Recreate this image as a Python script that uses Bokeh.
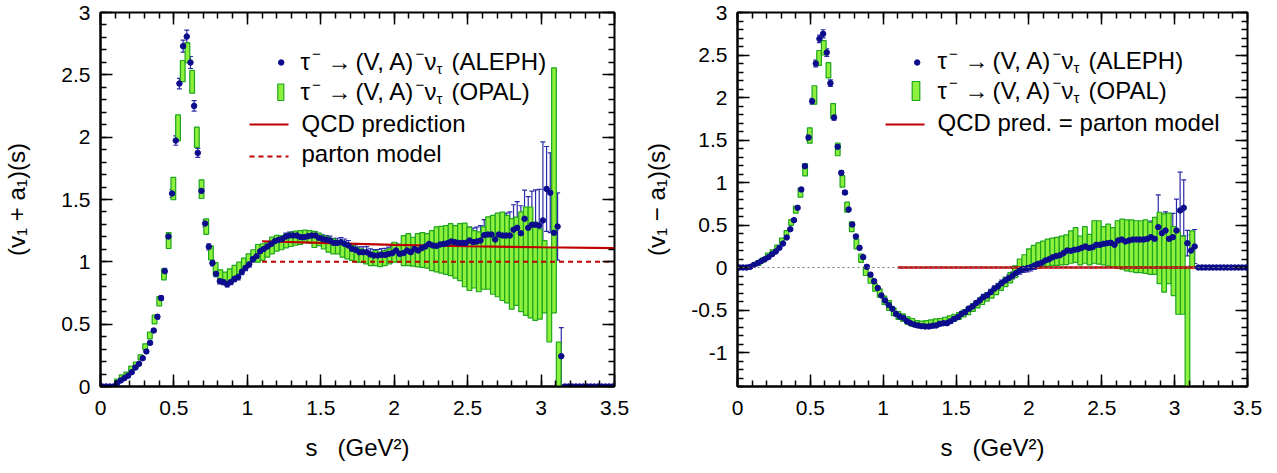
import numpy as np
from bokeh.plotting import figure
from bokeh.models import (ColumnDataSource, Whisker, TeeHead, Label, Range1d, LinearAxis,
                          FixedTicker, Span, CustomJSTickFormatter)
from bokeh.layouts import row
from bokeh.embed import file_html
from bokeh.resources import INLINE

FONT = "Liberation Sans"

# ---------------- data ----------------
ALEPH_BIN = 0.025      # ALEPH bin width (GeV^2), first bin centre 0.0125
OPAL_BIN = 0.032       # OPAL bin width (GeV^2), first bin centre 0.016

aleph_sum = [0, 0, 0, 0,
             0.027, 0.048, 0.067, 0.086, 0.115, 0.152, 0.182, 0.227, 0.281, 0.350,
             0.449, 0.559, 0.709, 0.925, 1.203, 1.548, 1.973, 2.430, 2.730, 2.807,
             2.599, 2.251, 1.874, 1.569, 1.307, 1.120, 0.990, 0.904, 0.845, 0.838,
             0.820, 0.838, 0.864, 0.878, 0.920, 0.952, 0.980, 1.022, 1.045, 1.085,
             1.104, 1.123, 1.144, 1.166, 1.177, 1.184, 1.203, 1.211, 1.211, 1.211,
             1.198, 1.198, 1.205, 1.211, 1.211, 1.193, 1.184, 1.177, 1.171, 1.152,
             1.152, 1.157, 1.144, 1.131, 1.104, 1.096, 1.077, 1.077, 1.077, 1.059,
             1.051, 1.051, 1.056, 1.056, 1.064, 1.070, 1.091, 1.064,
             1.070, 1.091, 1.077, 1.104, 1.091, 1.110, 1.123, 1.144, 1.131, 1.128,
             1.139, 1.144, 1.150, 1.163, 1.158, 1.152, 1.152, 1.152, 1.171, 1.158,
             1.163, 1.171, 1.214, 1.219, 1.219, 1.179, 1.219, 1.211, 1.211, 1.211,
             1.258, 1.273, 1.230, 1.345, 1.273, 1.297, 1.297, 1.291, 1.332, 1.585,
             1.554, 1.233, 1.283, 0.243,
             0, 0, 0, 0, 0, 0, 0, 0, 0, 0, 0, 0, 0, 0]
aleph_sum_err = [0, 0, 0, 0,
                 0.006, 0.006, 0.007, 0.007, 0.008, 0.008, 0.009, 0.010, 0.011, 0.012,
                 0.014, 0.016, 0.018, 0.022, 0.028, 0.032, 0.038, 0.042, 0.048, 0.052,
                 0.048, 0.042, 0.036, 0.032, 0.028, 0.025, 0.022, 0.022, 0.022, 0.022,
                 0.022, 0.022, 0.022, 0.022, 0.022, 0.022, 0.022, 0.024, 0.024, 0.024,
                 0.025, 0.025, 0.026, 0.026, 0.027, 0.027, 0.028, 0.028, 0.029, 0.029,
                 0.030, 0.030, 0.031, 0.031, 0.032, 0.032, 0.033, 0.034, 0.035, 0.036,
                 0.037, 0.038, 0.039, 0.040, 0.041, 0.042, 0.043, 0.044, 0.045, 0.046,
                 0.047, 0.048, 0.050, 0.052, 0.054, 0.056, 0.058, 0.060,
                 0.062, 0.064, 0.066, 0.068, 0.070, 0.072, 0.074, 0.076, 0.078, 0.080,
                 0.082, 0.085, 0.088, 0.090, 0.093, 0.096, 0.100, 0.104, 0.108, 0.112,
                 0.116, 0.120, 0.125, 0.130, 0.140, 0.150, 0.160, 0.170, 0.180, 0.190,
                 0.200, 0.210, 0.220, 0.230, 0.250, 0.270, 0.280, 0.290, 0.630, 0.340,
                 0.320, 0.280, 0.270, 0.230,
                 0, 0, 0, 0, 0, 0, 0, 0, 0, 0, 0, 0, 0, 0]

aleph_diff = [0, 0, 0, 0.008, 0.031, 0.051, 0.075, 0.098, 0.122, 0.157,
              0.188, 0.231, 0.282, 0.353, 0.451, 0.557, 0.702, 0.918, 1.192, 1.529,
              1.957, 2.400, 2.690, 2.749, 2.529, 2.169, 1.765, 1.420, 1.114, 0.882,
              0.682, 0.506, 0.365, 0.231, 0.122, 0.008, -0.084, -0.161, -0.241, -0.329,
              -0.388, -0.441, -0.486, -0.545, -0.576, -0.592, -0.631, -0.655, -0.671, -0.682,
              -0.690, -0.694, -0.694, -0.686, -0.682, -0.663, -0.655, -0.655, -0.631, -0.604,
              -0.584, -0.545, -0.525, -0.486, -0.459, -0.420, -0.388, -0.349, -0.329, -0.290,
              -0.251, -0.224, -0.184, -0.153, -0.125, -0.094, -0.063, -0.035, -0.016, -0.008,
              0.004, 0.024, 0.043, 0.055, 0.082, 0.096, 0.120, 0.135, 0.145, 0.170,
              0.200, 0.196, 0.208, 0.214, 0.231, 0.247, 0.231, 0.239, 0.267, 0.267,
              0.278, 0.286, 0.290, 0.267, 0.318, 0.329, 0.306, 0.318, 0.329, 0.329,
              0.329, 0.329, 0.337, 0.357, 0.337, 0.475, 0.404, 0.435, 0.337, 0.357,
              0.435, 0.671, 0.702, 0.286, 0.200, 0.247,
              0, 0, 0, 0, 0, 0, 0, 0, 0, 0, 0, 0, 0, 0]
aleph_diff_err = [0, 0, 0, 0.005, 0.005, 0.006, 0.006, 0.007, 0.007, 0.008,
                  0.009, 0.010, 0.011, 0.012, 0.014, 0.016, 0.018, 0.022, 0.026, 0.030,
                  0.034, 0.040, 0.045, 0.048, 0.044, 0.038, 0.032, 0.028, 0.024, 0.022,
                  0.020, 0.020, 0.020, 0.020, 0.020, 0.020, 0.020, 0.020, 0.020, 0.020,
                  0.020, 0.020, 0.020, 0.020, 0.020, 0.020, 0.020, 0.020, 0.020, 0.020,
                  0.021, 0.021, 0.022, 0.022, 0.023, 0.023, 0.024, 0.024, 0.025, 0.025,
                  0.026, 0.026, 0.027, 0.028, 0.029, 0.030, 0.031, 0.032, 0.033, 0.034,
                  0.035, 0.036, 0.037, 0.038, 0.039, 0.040, 0.041, 0.042, 0.043, 0.044,
                  0.045, 0.046, 0.047, 0.048, 0.050, 0.052, 0.054, 0.056, 0.058, 0.060,
                  0.062, 0.064, 0.066, 0.068, 0.070, 0.072, 0.074, 0.076, 0.078, 0.080,
                  0.083, 0.086, 0.089, 0.092, 0.095, 0.098, 0.100, 0.105, 0.110, 0.115,
                  0.120, 0.130, 0.140, 0.190, 0.150, 0.380, 0.200, 0.220, 0.250, 0.280,
                  0.370, 0.450, 0.330, 0.150, 0.180, 0.200,
                  0, 0, 0, 0, 0, 0, 0, 0, 0, 0, 0, 0, 0, 0]

opal_sum_first_bin = 3
opal_sum = [0.045, 0.075, 0.098, 0.143, 0.171, 0.234, 0.318, 0.409, 0.537, 0.684,
            0.900, 1.171, 1.588, 2.076, 2.530, 2.677, 2.444, 1.999, 1.583, 1.283,
            1.072, 0.941, 0.893, 0.870, 0.894, 0.924, 0.950, 0.987, 1.021, 1.054,
            1.068, 1.078, 1.098, 1.131, 1.149, 1.154, 1.167, 1.180, 1.190, 1.195,
            1.204, 1.200, 1.180, 1.180, 1.157, 1.138, 1.124, 1.118, 1.097, 1.084,
            1.071, 1.057, 1.050, 1.037, 1.024, 1.030, 1.020, 1.030, 1.044, 1.077,
            1.070, 1.090, 1.098, 1.081, 1.093, 1.095, 1.088, 1.090, 1.100, 1.097,
            1.095, 1.098, 1.080, 1.078, 1.055, 1.024, 1.020, 1.000, 1.030, 1.070,
            1.056, 1.055, 1.044, 1.021, 0.983, 1.004, 1.000, 1.005, 0.995, 0.924,
            0.902, 0.880, 0.737, 1.573, 0.178]
opal_sum_err = [0.015, 0.018, 0.018, 0.020, 0.024, 0.020, 0.024, 0.027, 0.035, 0.037,
                0.044, 0.064, 0.090, 0.103, 0.085, 0.080, 0.091, 0.081, 0.075, 0.062,
                0.056, 0.053, 0.043, 0.047, 0.050, 0.047, 0.047, 0.043, 0.043, 0.043,
                0.071, 0.067, 0.060, 0.067, 0.063, 0.057, 0.055, 0.057, 0.057, 0.055,
                0.050, 0.050, 0.065, 0.050, 0.054, 0.060, 0.060, 0.054, 0.060, 0.060,
                0.060, 0.060, 0.054, 0.054, 0.054, 0.060, 0.058, 0.060, 0.060, 0.080,
                0.073, 0.120, 0.128, 0.116, 0.133, 0.140, 0.138, 0.160, 0.180, 0.187,
                0.195, 0.208, 0.210, 0.228, 0.255, 0.254, 0.230, 0.240, 0.250, 0.290,
                0.316, 0.335, 0.354, 0.351, 0.363, 0.354, 0.400, 0.435, 0.445, 0.394,
                0.362, 0.290, 0.380, 0.983, 0.178]

opal_diff_first_bin = 4
opal_diff = [0.053, 0.088, 0.140, 0.180, 0.235, 0.315, 0.405, 0.530, 0.680, 0.880,
             1.149, 1.553, 2.030, 2.466, 2.585, 2.320, 1.840, 1.390, 1.014, 0.710,
             0.480, 0.275, 0.110, -0.045, -0.145, -0.235, -0.300, -0.386, -0.447, -0.520,
             -0.565, -0.590, -0.625, -0.645, -0.665, -0.670, -0.665, -0.655, -0.645, -0.640,
             -0.625, -0.610, -0.590, -0.570, -0.540, -0.510, -0.470, -0.430, -0.390, -0.350,
             -0.310, -0.270, -0.220, -0.170, -0.120, -0.050, 0.030, 0.070, 0.110, 0.135,
             0.150, 0.160, 0.175, 0.185, 0.190, 0.200, 0.210, 0.240, 0.265, 0.200,
             0.265, 0.210, 0.300, 0.295, 0.255, 0.265, 0.235, 0.270, 0.275, 0.260,
             0.255, 0.245, 0.245, 0.245, 0.225, 0.255, 0.230, 0.170, 0.225, 0.075,
             -0.065, -0.090, -1.000, 0.215]
opal_diff_err = [0.029, 0.026, 0.028, 0.028, 0.028, 0.030, 0.030, 0.034, 0.041, 0.053,
                 0.071, 0.090, 0.108, 0.087, 0.085, 0.090, 0.088, 0.075, 0.068, 0.059,
                 0.057, 0.055, 0.049, 0.049, 0.040, 0.043, 0.049, 0.049, 0.059, 0.045,
                 0.045, 0.045, 0.045, 0.045, 0.040, 0.040, 0.040, 0.040, 0.040, 0.040,
                 0.040, 0.040, 0.040, 0.040, 0.040, 0.045, 0.045, 0.045, 0.045, 0.045,
                 0.050, 0.050, 0.050, 0.055, 0.060, 0.070, 0.070, 0.080, 0.110, 0.125,
                 0.140, 0.150, 0.160, 0.160, 0.165, 0.170, 0.175, 0.190, 0.205, 0.170,
                 0.215, 0.180, 0.250, 0.255, 0.225, 0.245, 0.235, 0.280, 0.295, 0.300,
                 0.305, 0.305, 0.305, 0.315, 0.305, 0.335, 0.420, 0.460, 0.415, 0.405,
                 0.485, 0.460, 1.000, 0.215]

qcd_s = [1.1, 1.5, 2.0, 2.5, 3.0, 3.5]
qcd_sum = [1.165, 1.152, 1.136, 1.125, 1.117, 1.110]
parton_s = [1.1, 3.5]
parton_sum = [1.0, 1.0]
qcd_diff = [0.0, 0.0]

x_ticks = [0, 0.5, 1, 1.5, 2, 2.5, 3, 3.5]
y_ticks_sum = [0, 0.5, 1, 1.5, 2, 2.5, 3]
y_ticks_diff = [-1, -0.5, 0, 0.5, 1, 1.5, 2, 2.5, 3]

# ---------------- style ----------------
ALEPH_COL = "#0c0c8c"
ERR_COL = "#2a2aa8"
OPAL_FILL = "#8cf03c"
OPAL_LINE = "#1da51d"
RED = "#c00000"
FH = 374
HEIGHT = 472


def aleph_source(vals, errs):
    k = np.arange(len(vals))
    s = 0.0125 + ALEPH_BIN * k
    return s, np.array(vals, dtype=float), np.array(errs, dtype=float)


def opal_source(first, vals, errs):
    m = np.arange(first, first + len(vals))
    s = 0.016 + OPAL_BIN * m
    v = np.array(vals, dtype=float)
    e = np.array(errs, dtype=float)
    return ColumnDataSource(dict(s=s, top=v + e, bottom=v - e))


def style_axis(ax, labels=True):
    ax.axis_line_width = 2
    ax.major_tick_in = 12
    ax.major_tick_out = 0
    ax.minor_tick_in = 6
    ax.minor_tick_out = 0
    ax.major_tick_line_width = 1.5
    ax.minor_tick_line_width = 1.5
    ax.major_label_text_font = FONT
    ax.major_label_text_font_size = "21px"
    ax.major_label_text_color = "black"
    ax.axis_label_text_font = FONT
    ax.axis_label_text_font_size = "24px"
    ax.axis_label_text_font_style = "normal"
    ax.axis_label_text_color = "black"
    if labels:
        ax.formatter = CustomJSTickFormatter(code="return tick.toString()")
    else:
        ax.formatter = CustomJSTickFormatter(code="return ''")
        ax.major_label_standoff = 0
        ax.axis_line_color = None


def make_panel(width, bl, br, ylo, yhi, yticks, ylabel, ylabel_standoff):
    p = figure(width=width, height=HEIGHT, x_range=Range1d(0, 3.5), y_range=Range1d(ylo, yhi),
               output_backend="svg", toolbar_location=None,
               min_border_left=bl, min_border_right=br, min_border_top=12,
               min_border_bottom=HEIGHT - 12 - FH,
               x_axis_label="s\u00a0\u00a0\u00a0(GeV\u00b2)", y_axis_label=ylabel)
    p.grid.visible = False
    p.outline_line_color = "black"
    p.outline_line_width = 2
    p.background_fill_color = "white"
    p.border_fill_color = "white"
    xminor = [round(0.1 * i, 2) for i in range(36)]
    n = int(round((yhi - ylo) / 0.1))
    yminor = [round(ylo + 0.1 * i, 2) for i in range(n + 1)]
    p.xaxis.ticker = FixedTicker(ticks=x_ticks, minor_ticks=xminor)
    p.yaxis.ticker = FixedTicker(ticks=yticks, minor_ticks=yminor)
    for ax in p.xaxis:
        style_axis(ax)
        ax.major_label_standoff = 14
        ax.axis_label_standoff = 16
    for ax in p.yaxis:
        style_axis(ax)
        ax.major_label_standoff = 10
        ax.axis_label_standoff = ylabel_standoff
    top = LinearAxis(ticker=FixedTicker(ticks=x_ticks, minor_ticks=xminor))
    style_axis(top, labels=False)
    p.add_layout(top, "above")
    right = LinearAxis(ticker=FixedTicker(ticks=yticks, minor_ticks=yminor))
    style_axis(right, labels=False)
    p.add_layout(right, "right")
    return p


def draw_opal(p, first, vals, errs):
    osrc = opal_source(first, vals, errs)
    p.vbar(x="s", width=OPAL_BIN, top="top", bottom="bottom", source=osrc,
           fill_color=OPAL_FILL, line_color=OPAL_LINE, line_width=1.2)


def draw_aleph(p, aleph_vals, aleph_errs):
    s, v, e = aleph_source(aleph_vals, aleph_errs)
    has = e > 0
    esrc = ColumnDataSource(dict(s=s[has], lo=(v - e)[has], hi=(v + e)[has]))
    w = Whisker(source=esrc, base="s", lower="lo", upper="hi", line_color=ERR_COL, line_width=1.2,
                upper_head=TeeHead(size=5, line_color=ERR_COL, line_width=1.2),
                lower_head=TeeHead(size=5, line_color=ERR_COL, line_width=1.2))
    p.add_layout(w)
    p.scatter(x=s, y=v, size=5.5, marker="circle", fill_color=ALEPH_COL, line_color=ALEPH_COL)


def fx(px, fw):
    return px / fw * 3.5


def fy(py, lo, hi):
    return hi - py / FH * (hi - lo)


TAU_PIECES = [("\u03c4", 0, 0, 24), ("\u2212", 11.5, 7, 15), ("\u2192", 27, 0, 24),
              ("(V, A)", 55, 0, 24), ("\u2212", 115, 7, 15), ("\u03bd", 124, 0, 24),
              ("\u03c4", 136, -7, 15)]


def put_text(p, fw, lo, hi, x0, yc, pieces):
    for t, dx, dy, fs in pieces:
        p.add_layout(Label(x=fx(x0 + dx, fw), y=fy(yc - dy, lo, hi), text=t, text_font=FONT,
                           text_font_size=f"{fs}px", text_baseline="middle", text_align="left",
                           text_color="black"))


# ---------------- left panel: V + A ----------------
FW1 = 514
p1 = make_panel(640, 100, 26, 0, 3, y_ticks_sum, "(v\u2081 + a\u2081)(s)", 28)
draw_opal(p1, opal_sum_first_bin, opal_sum, opal_sum_err)
p1.line(parton_s, parton_sum, line_color=RED, line_width=2, line_dash="5 4")
p1.line(qcd_s, qcd_sum, line_color=RED, line_width=2.2)
draw_aleph(p1, aleph_sum, aleph_sum_err)

lo, hi = 0, 3
p1.scatter(x=[fx(180.7, FW1)], y=[fy(50, lo, hi)], size=5.5, fill_color=ALEPH_COL, line_color=ALEPH_COL)
p1.quad(left=[fx(177.3, FW1)], right=[fx(183.3, FW1)], top=[fy(71.5, lo, hi)], bottom=[fy(88, lo, hi)],
        fill_color=OPAL_FILL, line_color=OPAL_LINE, line_width=1.2)
p1.line([fx(149, FW1), fx(188, FW1)], [fy(112, lo, hi)] * 2, line_color=RED, line_width=2.2)
p1.line([fx(149, FW1), fx(188, FW1)], [fy(144, lo, hi)] * 2, line_color=RED, line_width=2, line_dash="5 4")
put_text(p1, FW1, lo, hi, 200, 48.5, TAU_PIECES + [("(ALEPH)", 151, 0, 24)])
put_text(p1, FW1, lo, hi, 200, 79, TAU_PIECES + [("(OPAL)", 151, 0, 24)])
put_text(p1, FW1, lo, hi, 201, 111, [("QCD prediction", 0, 0, 24)])
put_text(p1, FW1, lo, hi, 201, 141, [("parton model", 0, 0, 24)])

# ---------------- right panel: V - A ----------------
FW2 = 510
p2 = make_panel(629, 97, 22, -1.4, 3, y_ticks_diff, "(v\u2081 \u2212 a\u2081)(s)", 18)
p2.add_layout(Span(location=0, dimension="width", line_color="#777777", line_width=1.2, line_dash="2 3"))
draw_opal(p2, opal_diff_first_bin, opal_diff, opal_diff_err)
p2.line(parton_s, qcd_diff, line_color=RED, line_width=2.5)
draw_aleph(p2, aleph_diff, aleph_diff_err)

lo, hi = -1.4, 3
p2.scatter(x=[fx(179.7, FW2)], y=[fy(50, lo, hi)], size=5.5, fill_color=ALEPH_COL, line_color=ALEPH_COL)
p2.quad(left=[fx(174.7, FW2)], right=[fx(182.3, FW2)], top=[fy(69, lo, hi)], bottom=[fy(88, lo, hi)],
        fill_color=OPAL_FILL, line_color=OPAL_LINE, line_width=1.2)
p2.line([fx(148, FW2), fx(187, FW2)], [fy(112, lo, hi)] * 2, line_color=RED, line_width=2.2)
put_text(p2, FW2, lo, hi, 200, 48, TAU_PIECES + [("(ALEPH)", 151, 0, 24)])
put_text(p2, FW2, lo, hi, 200, 77.5, TAU_PIECES + [("(OPAL)", 151, 0, 24)])
put_text(p2, FW2, lo, hi, 200, 110, [("QCD pred. = parton model", 0, 0, 24)])

layout = row(p1, p2)
open("out.html", "w").write(file_html(layout, INLINE))
